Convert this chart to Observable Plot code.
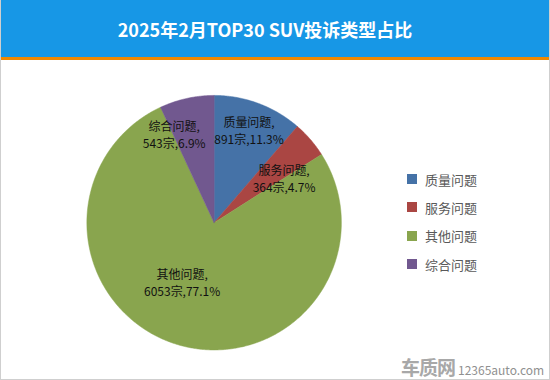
<!DOCTYPE html>
<html>
<head>
<meta charset="utf-8">
<script src="https://cdn.jsdelivr.net/npm/d3@7"></script>
<script src="https://cdn.jsdelivr.net/npm/@observablehq/plot@0.6"></script>
<style>
  html, body { margin: 0; padding: 0; background: #fff; }
  #frame { position: relative; width: 550px; height: 380px; box-sizing: border-box;
    border: 1px solid #cfcfcf; border-top: none; overflow: hidden;
    font-family: "Noto Sans CJK SC", "Noto Sans", sans-serif; }
  #header { position: absolute; left: -1px; top: 0; width: 550px; height: 57px;
    background: #1797E6; border-bottom: 3px solid #F18800; color: #fff;
    font-weight: bold; font-size: 18px; line-height: 57px; text-align: center; }
  #header span { position: relative; left: -10px; top: 1px; }
  #chart { position: absolute; left: -1px; top: 60px; }
  #legend { position: absolute; left: 406px; top: 165px; }
  .item { height: 28.3px; display: flex; align-items: center; font-size: 13px; color: #595959; }
  .sw { width: 10px; height: 10px; margin-right: 8px; }
  #wm { position: absolute; left: 400px; top: 353px; color: #a0a0a0; white-space: nowrap; }
  #wm .logo { font-size: 19px; font-weight: bold; letter-spacing: -1px; color: #a8a8a8; }
  #wm .url { font-size: 12px; color: #909090; margin-left: 3px; }
</style>
</head>
<body>
<div id="frame">
  <div id="header"><span>2025年2月TOP30 SUV投诉类型占比</span></div>
  <div id="chart"></div>
  <div id="legend"></div>
  <div id="wm"><span class="logo">车质网</span><span class="url">12365auto.com</span></div>
</div>
<script>
const categories = ["质量问题", "服务问题", "其他问题", "综合问题"];
const counts = [891, 364, 6053, 543];
const percents = ["11.3%", "4.7%", "77.1%", "6.9%"];
const colors = ["#4572A7", "#AA4643", "#89A54E", "#71588F"];

// label placement (polar, in radius units) – layout, not data
const labelPlace = {
  "质量问题": {deg: 20.7, r: 0.776},
  "服务问题": {deg: 57.6, r: 0.651},
  "其他问题": {deg: 208.3, r: 0.53},
  "综合问题": {deg: 335.7, r: 0.762}
};

const W = 550, H = 320, R = 127.5, CX = 214, CY = 162.5;

const arcs = d3.pie().sort(null)(counts);
const slicePts = [];
arcs.forEach((a, i) => {
  const key = categories[i];
  slicePts.push({key, x: 0, y: 0});
  const n = Math.max(2, Math.ceil((a.endAngle - a.startAngle) / (Math.PI / 360)));
  for (let k = 0; k <= n; k++) {
    const t = a.startAngle + (a.endAngle - a.startAngle) * k / n;
    slicePts.push({key, x: Math.sin(t), y: Math.cos(t)});
  }
  slicePts.push({key, x: 0, y: 0});
});

const labels = categories.map((c, i) => {
  const p = labelPlace[c];
  const t = p.deg * Math.PI / 180;
  return {key: c, x: p.r * Math.sin(t), y: p.r * Math.cos(t),
          text: `${c},\n${counts[i]}宗,${percents[i]}`};
});

const plot = Plot.plot({
  width: W, height: H,
  margin: 0,
  x: {domain: [-CX / R, (W - CX) / R], axis: null},
  y: {domain: [-(H - CY) / R, CY / R], axis: null},
  color: {domain: categories, range: colors},
  style: {background: "transparent", fontFamily: "'Noto Sans CJK SC', sans-serif"},
  marks: [
    Plot.line(slicePts, {x: "x", y: "y", z: "key", fill: "key", stroke: "key", strokeWidth: 0.5, curve: "linear"}),
    Plot.text(labels, {x: "x", y: "y", text: "text", fontSize: 12, lineHeight: 1.38, fill: "#111", lineAnchor: "middle"})
  ]
});
document.getElementById("chart").appendChild(plot);

const legend = document.getElementById("legend");
categories.forEach((c, i) => {
  const it = document.createElement("div");
  it.className = "item";
  it.innerHTML = `<div class="sw" style="background:${colors[i]}"></div><span>${c}</span>`;
  legend.appendChild(it);
});
</script>
</body>
</html>
